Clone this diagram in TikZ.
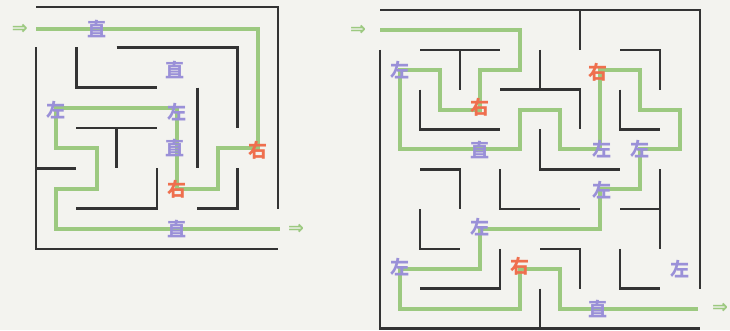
\documentclass[tikz,border=0pt]{standalone}
\usepackage{fontspec}
\usepackage{tikz}
\newfontfamily\mazecjk{Noto Sans CJK SC}
\newfontfamily\mazesym{DejaVu Sans}
\definecolor{MazeBack}{HTML}{F3F3EF}
\definecolor{MazeWall}{HTML}{333333}
\definecolor{MazePath}{HTML}{9CC980}
\definecolor{MazeStraight}{HTML}{9A90D8}
\definecolor{MazeTurn}{HTML}{EF6F4E}

\begin{document}
\begin{tikzpicture}[x=1pt,y=-1pt,
    wall/.style={MazeWall,line width=2.6pt},
    route/.style={MazePath,line width=4pt},
    sign/.style={font=\mazecjk\bfseries\fontsize{19}{19}\selectfont,inner sep=0pt},
    zhi/.style={sign,text=MazeStraight},
    zuo/.style={sign,text=MazeStraight},
    you/.style={sign,text=MazeTurn},
    entry/.style={font=\mazesym\bfseries\fontsize{19}{19}\selectfont,text=MazePath,inner sep=0pt}]
  \fill[MazeBack] (0,0) rectangle (730,330);
  \useasboundingbox (0,0) rectangle (730,330);

  \begin{scope}[shift={(36,7)},x=20.17pt,y=-20.17pt]
    \draw[wall] (0,0) -- (12,0) -- (12,10);
    \draw[wall] (0,2) -- (0,12) -- (12,12);
    \draw[wall] (4,2) -- (10,2) -- (10,6);
    \draw[wall] (2,2) -- (2,4) -- (6,4);
    \draw[wall] (8,4) -- (8,8);
    \draw[wall] (2,6) -- (6,6) (4,6) -- (4,8);
    \draw[wall] (0,8) -- (2,8);
    \draw[wall] (6,8) -- (6,10) -- (2,10);
    \draw[wall] (10,8) -- (10,10) -- (8,10);
    \draw[route] (0,1.1) -- (11,1.1) -- (11,7) -- (9,7) -- (9,9) -- (7,9) -- (7,5)
      -- (1,5) -- (1,7) -- (3,7) -- (3,9) -- (1,9) -- (1,11) -- (12.1,11);
    \node[entry] (Lin) at (-0.8,1.1) {⇒};
    \node[entry] (Lout) at (12.9,11) {⇒};
    \foreach \x/\y [count=\i] in {3/1.1,6.9/3.1,6.9/7,7/11}
      \node[zhi] (Lz\i) at (\x,\y) {直};
    \foreach \x/\y [count=\i] in {1/5.1,7/5.2}
      \node[zuo] (Ll\i) at (\x,\y) {左};
    \foreach \x/\y [count=\i] in {11/7.1,7/9.05}
      \node[you] (Lr\i) at (\x,\y) {右};
  \end{scope}

  \begin{scope}[shift={(380,10)},x=20pt,y=-19.9pt]
    \draw[wall] (0,0) -- (16,0) -- (16,14);
    \draw[wall] (10,0) -- (10,2);
    \draw[wall] (0,2) -- (0,16) -- (16,16);
    \draw[wall] (2,2) -- (6,2) (4,2) -- (4,4);
    \draw[wall] (8,2) -- (8,4) (6,4) -- (10,4) -- (10,6);
    \draw[wall] (2,4) -- (2,6) -- (6,6);
    \draw[wall] (12,2) -- (14,2) -- (14,4);
    \draw[wall] (12,4) -- (12,6) -- (14,6);
    \draw[wall] (8,6) -- (8,8) -- (12,8);
    \draw[wall] (2,8) -- (4,8) -- (4,10);
    \draw[wall] (6,8) -- (6,10) -- (10,10);
    \draw[wall] (2,10) -- (2,12) -- (4,12);
    \draw[wall] (14,8) -- (14,12) (12,10) -- (14,10);
    \draw[wall] (6,12) -- (6,14) -- (2,14);
    \draw[wall] (8,12) -- (10,12) -- (10,14);
    \draw[wall] (12,12) -- (12,14) -- (14,14);
    \draw[wall] (8,14) -- (8,16);
    \draw[route] (0,1) -- (7,1) -- (7,3) -- (5,3) -- (5,5) -- (3,5) -- (3,3) -- (1,3)
      -- (1,7) -- (7,7) -- (7,5) -- (9,5) -- (9,7) -- (11,7) -- (11,3) -- (13,3)
      -- (13,5) -- (15,5) -- (15,7) -- (13,7) -- (13,9) -- (11,9) -- (11,11)
      -- (5,11) -- (5,13) -- (1,13) -- (1,15) -- (7,15) -- (7,13) -- (9,13)
      -- (9,15) -- (15.9,15);
    \node[entry] (Rin) at (-1.1,1) {⇒};
    \node[entry] (Rout) at (17,15) {⇒};
    \foreach \x/\y [count=\i] in {5/7.05,10.9/15}
      \node[zhi] (Rz\i) at (\x,\y) {直};
    \foreach \x/\y [count=\i] in {1/3,11.1/7,13/7,11.1/9.05,5/10.9,1/12.9,15/13}
      \node[zuo] (Rl\i) at (\x,\y) {左};
    \foreach \x/\y [count=\i] in {5/4.9,10.9/3.15,7/12.9}
      \node[you] (Rr\i) at (\x,\y) {右};
  \end{scope}
\end{tikzpicture}
\end{document}
